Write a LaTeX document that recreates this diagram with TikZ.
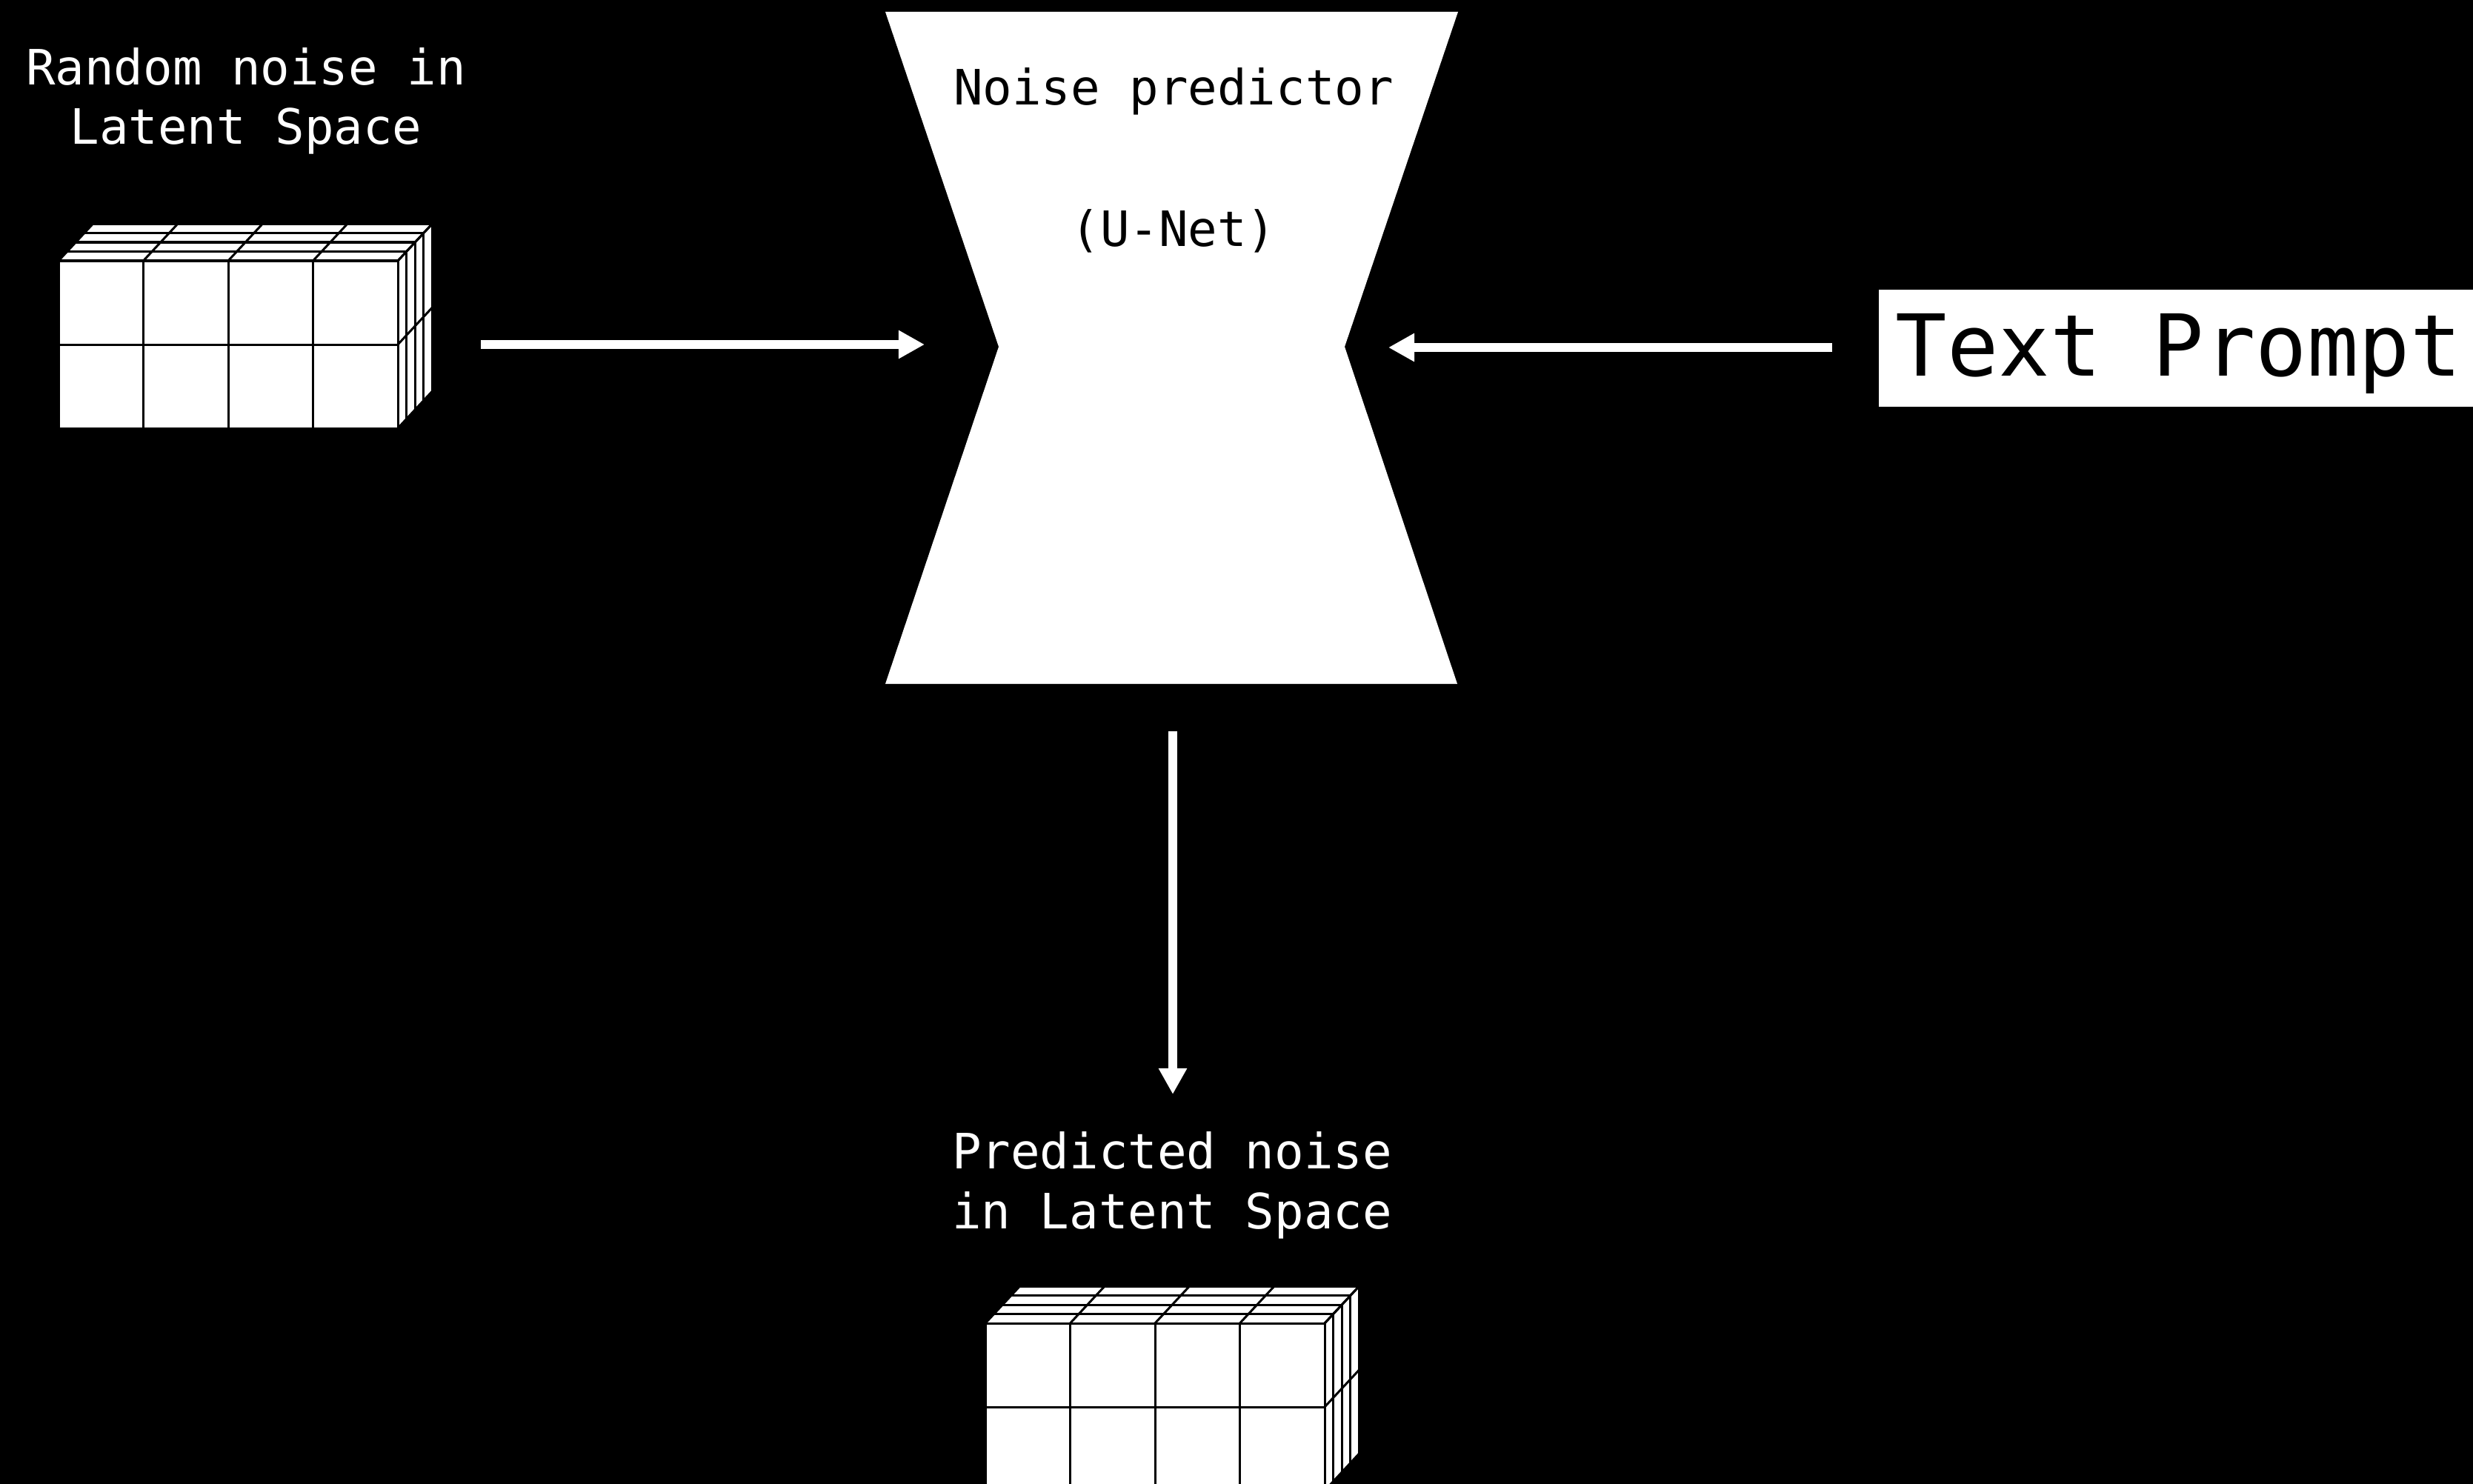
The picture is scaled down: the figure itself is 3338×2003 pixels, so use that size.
\documentclass[tikz,border=0pt]{standalone}
\usepackage{fontspec}
\newfontfamily\diagfont{DejaVu Sans Mono}
\usetikzlibrary{arrows.meta}

% one unit = 0.01cm, y grows downwards
\tikzset{
  caption/.style={font=\diagfont\fontsize{18.7pt}{22.76pt}\selectfont,
    text=white, align=center, inner sep=0pt, anchor=base},
  darkcaption/.style={caption, text=black},
  flow/.style={draw=white, line width=0.12cm,
    -{Triangle[width=0.36cm,length=0.35cm]}},
  gridline/.style={draw=black, line width=0.03cm},
  % a 4 x 2 x 4 block of latent cells, anchored at its front top-left corner
  latentcube/.pic={
    \fill[white] (0,0) -- (46.5,-50) -- (504.5,-50) -- (504.5,176)
      -- (458,226) -- (0,226) -- cycle;
    \draw[gridline] (0,0) rectangle (458,226);
    \foreach \x in {114.5,229,343.5} \draw[gridline] (\x,0) -- (\x,226);
    \draw[gridline] (0,113) -- (458,113);
    \foreach \k in {1,2,3,4} {
      \draw[gridline] ({\k*11.625},{-\k*12.5}) -- ({458+\k*11.625},{-\k*12.5});
      \draw[gridline] ({458+\k*11.625},{-\k*12.5}) -- ({458+\k*11.625},{226-\k*12.5});
    }
    \foreach \x in {0,114.5,229,343.5,458} \draw[gridline] (\x,0) -- ++(46.5,-50);
    \foreach \y in {0,113,226} \draw[gridline] (458,\y) -- ++(46.5,-50);
  }
}

\begin{document}
\begin{tikzpicture}[x=0.01cm,y=-0.01cm]
  \useasboundingbox (0,0) rectangle (3338,2003);
  \fill[black] (0,0) rectangle (3338,2003);

  % noise predictor (U-Net) hourglass
  \fill[white] (1195,16) -- (1968,16) -- (1815,468) -- (1967,923)
    -- (1195,923) -- (1348,468) -- cycle;
  \node[darkcaption] (unettitle) at (1584,142) {Noise predictor};
  \node[darkcaption] (unetsub) at (1584,333) {(U-Net)};

  % input latent (base anchor sits on the last line)
  \node[caption] (noisein) at (332,195) {Random noise in\\Latent Space};
  \pic (cubein) at (79,352) {latentcube};

  % text prompt
  \node[fill=white, inner sep=0pt, minimum width=820*0.01cm, minimum height=158*0.01cm,
    anchor=north west] (promptbox) at (2535,390) {};
  \node[font=\diagfont\fontsize{32.8pt}{40pt}\selectfont, text=black,
    inner sep=0pt, anchor=base west] (prompt) at (2558,507) {Text Prompt};

  % output latent
  \node[caption] (noiseout) at (1582,1658) {Predicted noise\\in Latent Space};
  \pic (cubeout) at (1330,1786) {latentcube};

  % connector ends
  \coordinate (inStart) at (649,465);
  \coordinate (inEnd) at (1248,465);
  \coordinate (promptStart) at (2473,469);
  \coordinate (promptEnd) at (1874,469);
  \coordinate (outStart) at (1583,987);
  \coordinate (outEnd) at (1583,1477);

  \draw[flow] (inStart) -- (inEnd);
  \draw[flow] (promptStart) -- (promptEnd);
  \draw[flow] (outStart) -- (outEnd);
\end{tikzpicture}
\end{document}
